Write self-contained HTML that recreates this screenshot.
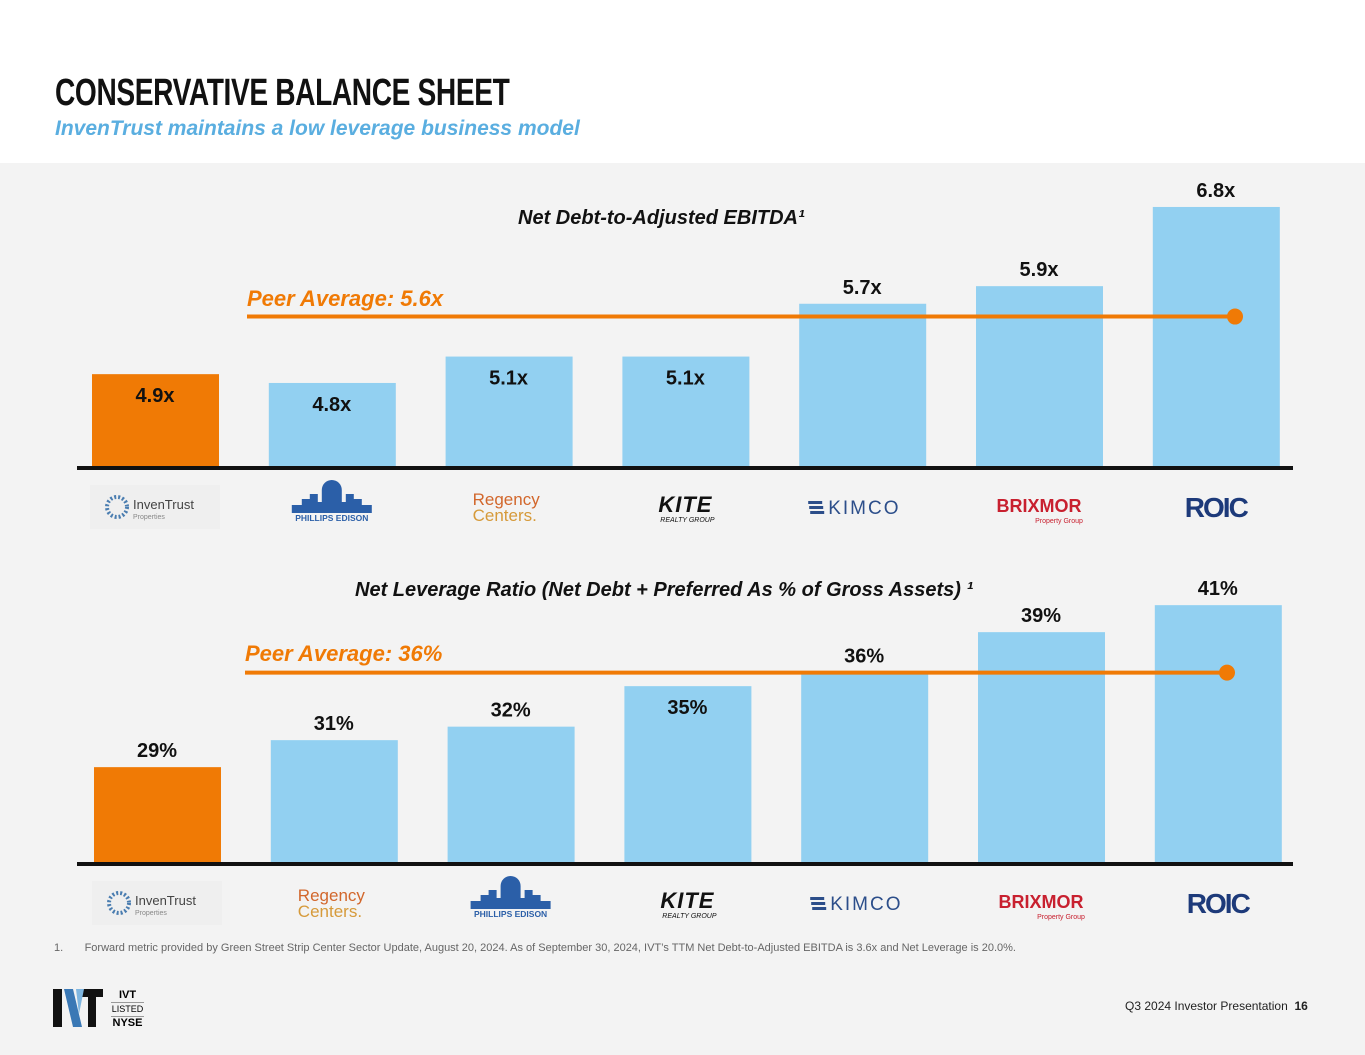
<!DOCTYPE html>
<html><head><meta charset="utf-8">
<style>
body{margin:0;width:1365px;height:1055px;background:#f3f3f3;font-family:"Liberation Sans",sans-serif;position:relative;overflow:hidden}
.hdr{position:absolute;left:0;top:0;width:1365px;height:163px;background:#fff}
.abs{position:absolute}
</style></head><body>
<div class="hdr"></div>
<div class="abs" style="left:55px;top:72px;font-size:38px;font-weight:bold;color:#111;transform:scaleX(0.74);transform-origin:left;letter-spacing:-0.5px">CONSERVATIVE BALANCE SHEET</div>
<div class="abs" style="left:55px;top:117px;font-size:21px;font-weight:bold;font-style:italic;color:#5aaee0">InvenTrust maintains a low leverage business model</div>
<svg class="abs" style="left:0;top:0" width="1365" height="1055" id="chart"></svg>
<div class="abs" style="left:54px;top:942px;font-size:11px;color:#666">1.&nbsp;&nbsp;&nbsp;&nbsp;&nbsp;&nbsp;&nbsp;Forward metric provided by Green Street Strip Center Sector Update, August 20, 2024. As of September 30, 2024, IVT’s TTM Net Debt-to-Adjusted EBITDA is 3.6x and Net Leverage is 20.0%.</div>
<div class="abs" style="left:52px;top:988px">
<svg width="52" height="40"><path d="M1 1h9v38H1z" fill="#111"/><path d="M12 1h9l9 38h-9z" fill="#3a78b5"/><path d="M30 1h21v8h-7v30h-8V9h-6z" fill="#111"/><path d="M24 1h8l-5 25z" fill="#7fb6e0"/></svg></div>
<div class="abs" style="left:111px;top:989px;font-size:11px;font-weight:bold;line-height:13px;text-align:center;width:33px">IVT<div style="border-top:1px solid #999;border-bottom:1px solid #999;font-weight:normal;font-size:9px">LISTED</div>NYSE</div>
<div class="abs" style="left:1125px;top:999px;font-size:12px;color:#222">Q3 2024 Investor Presentation&nbsp; <b>16</b></div>
<script>
const c1Names=["InvenTrust","Phillips Edison","Regency Centers","Kite","Kimco","Brixmor","ROIC"];
const c1Vals=[4.9,4.8,5.1,5.1,5.7,5.9,6.8];
const c1Labels=["4.9x","4.8x","5.1x","5.1x","5.7x","5.9x","6.8x"];
const c1Avg=5.6;
const c2Names=["InvenTrust","Regency Centers","Phillips Edison","Kite","Kimco","Brixmor","ROIC"];
const c2Vals=[29,31,32,35,36,39,41];
const c2Labels=["29%","31%","32%","35%","36%","39%","41%"];
const c2Avg=36;
const NS="http://www.w3.org/2000/svg";
const svg=document.getElementById('chart');
function el(t,a,p){const e=document.createElementNS(NS,t);for(const k in a)e.setAttribute(k,a[k]);(p||svg).appendChild(e);return e;}
function y1(v){return 467-(v-3.845)*88;}
function y2(v){return 863-(v-21.9)*13.5;}
function xb(i,off){return off+i*176.8;}
function logo(name,cx,cy,g){
  let t;
  if(name==="InvenTrust"){
    el('rect',{x:cx-65,y:cy-22,width:130,height:44,fill:'#efefef'},g);
    el('circle',{cx:cx-38,cy:cy,r:10,fill:'none',stroke:'#4a7db0','stroke-width':4,'stroke-dasharray':'2 2'},g);
    t=el('text',{x:cx-22,y:cy+2,'font-size':13,fill:'#444'},g);t.textContent='InvenTrust';
    const t2=el('text',{x:cx-22,y:cy+12,'font-size':7,fill:'#888'},g);t2.textContent='Properties';
    
  }else if(name==="Phillips Edison"){
    el('path',{d:`M${cx-40} ${cy+6}h80v-8h-10v-6h-8v-5h-8v8h-4v-12a10 10 0 0 0 -20 0v12h-4v-8h-8v5h-8v6h-10z`,fill:'#2b5fa8'},g);
    t=el('text',{x:cx,y:cy+14,'font-size':8.5,'font-weight':'bold','text-anchor':'middle',fill:'#2b5fa8'},g);t.textContent='PHILLIPS EDISON';
  }else if(name==="Regency Centers"){
    t=el('text',{x:cx-36,y:cy-2,'font-size':17,fill:'#d2672c'},g);t.textContent='Regency';
    const t2=el('text',{x:cx-36,y:cy+14,'font-size':17,fill:'#d69a3a'},g);t2.textContent='Centers.';
    
  }else if(name==="Kite"){
    t=el('text',{x:cx,y:cy+5,'font-size':22,'font-weight':'bold','font-style':'italic','text-anchor':'middle',fill:'#111','letter-spacing':1},g);t.textContent='KITE';
    const t2=el('text',{x:cx+2,y:cy+15,'font-size':7,'font-style':'italic','text-anchor':'middle',fill:'#111'},g);t2.textContent='REALTY GROUP';
    
  }else if(name==="Kimco"){
    for(let k=0;k<3;k++)el('rect',{x:cx-54+k,y:cy-6+k*5,width:14,height:3,fill:'#2c4e8a'},g);
    t=el('text',{x:cx-34,y:cy+7,'font-size':19,fill:'#2c4e8a','letter-spacing':2},g);t.textContent='KIMCO';
  }else if(name==="Brixmor"){
    t=el('text',{x:cx,y:cy+5,'font-size':18,'font-weight':'bold','text-anchor':'middle',fill:'#c8202f'},g);t.textContent='BRIXMOR';
    const t2=el('text',{x:cx+20,y:cy+16,'font-size':7,'text-anchor':'middle',fill:'#c8202f'},g);t2.textContent='Property Group';
    
  }else{
    t=el('text',{x:cx,y:cy+10,'font-size':28,'font-weight':'bold','text-anchor':'middle',fill:'#1d3a7a','letter-spacing':-2},g);t.textContent='ROIC';
  }
  
  
}
function chart(names,vals,labels,avg,yf,off,base,title,tx,ty,avgText,ax,ay,lineEnd,inside,lineShift){
  const g=el('g',{});
  
  
  const tt=el('text',{x:tx,y:ty,'font-size':20,'font-weight':'bold','font-style':'italic',fill:'#111'},g);
  tt.textContent=title;
  
  
  vals.forEach((v,i)=>{
    const x=xb(i,off),top=yf(v);
    const r=el('rect',{x:x,y:top,width:127,height:base-top,fill:i===0?'#f07a05':'#92d0f1'},g);
    
    
    const isIn=inside(v,i);
    const l=el('text',{x:x+63,y:isIn?top+28:top-10,'font-size':20,'font-weight':'bold','text-anchor':'middle',fill:'#111'},g);
    l.textContent=labels[i];
    
    
    logo(names[i],x+63,base+40,g);
  });
  const ax1=el('line',{x1:77,x2:1293,y1:base+1,y2:base+1,stroke:'#111','stroke-width':4},g);
  
  
  const ya=yf(avg)+lineShift;
  const ln=el('line',{x1:ax,x2:lineEnd,y1:ya,y2:ya,stroke:'#f07a05','stroke-width':4},g);
  
  
  const dot=el('circle',{cx:lineEnd,cy:ya,r:8,fill:'#f07a05'},g);
  
  
  const at=el('text',{x:ax,y:ay,'font-size':22,'font-weight':'bold','font-style':'italic',fill:'#f07a05'},g);
  at.textContent=avgText;
  
  
}
chart(c1Names,c1Vals,c1Labels,c1Avg,y1,92,467,'Net Debt-to-Adjusted EBITDA¹',518,224,'Peer Average: 5.6x',247,306,1235,(v,i)=>v<c1Avg,4);
chart(c2Names,c2Vals,c2Labels,c2Avg,y2,94,863,'Net Leverage Ratio (Net Debt + Preferred As % of Gross Assets) ¹',355,596,'Peer Average: 36%',245,661,1227,(v,i)=>v<c2Avg&&v>33,0);
</script>
</body></html>
